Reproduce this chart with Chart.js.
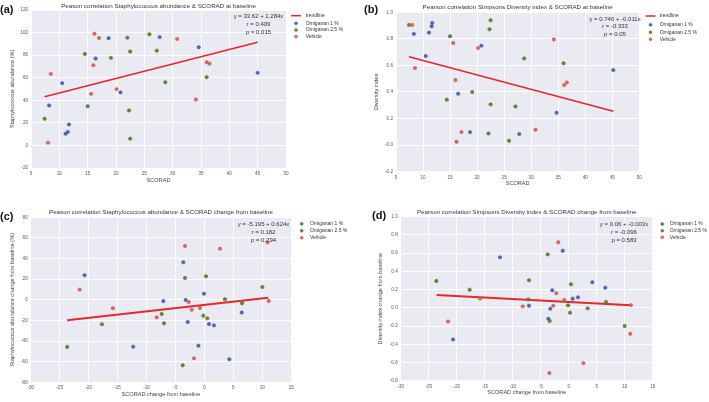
<!DOCTYPE html>
<html><head><meta charset="utf-8">
<script src="https://cdn.jsdelivr.net/npm/chart.js@4.4.0/dist/chart.umd.min.js"></script>
<style>
html,body{margin:0;padding:0;background:#fff;width:709px;height:402px;overflow:hidden;}
canvas{position:absolute;}
</style></head><body>
<canvas id="ca" width="354" height="200" style="left:0;top:0"></canvas>
<canvas id="cb" width="355" height="200" style="left:354px;top:0"></canvas>
<canvas id="cc" width="354" height="202" style="left:0;top:200px"></canvas>
<canvas id="cd" width="355" height="202" style="left:354px;top:200px"></canvas>
<script>
// ---------- data ----------
const seriesNames = ['Omiganan 1 %', 'Omiganan 2.5 %', 'Vehicle'];
const trendName = 'trendline';

// (a) Staphylococcus abundance vs SCORAD at baseline
const aOmi1 = [[10.5,55.2],[8.2,35.4],[11.7,18.6],[11.5,12.0],[11.1,10.4],[16.4,77.0],[18.7,95.0],[20.8,47.0],[27.7,96.0],[34.6,87.0],[45.0,64.3]];
const aOmi25 = [[7.4,23.6],[14.5,81.0],[15.0,34.8],[19.1,77.6],[22.0,95.5],[22.5,83.2],[22.3,31.0],[22.5,6.0],[25.9,98.5],[27.2,84.0],[28.7,56.0],[36.0,60.5]];
const aVeh = [[8.0,2.4],[8.5,63.4],[16.2,99.0],[17.0,95.2],[16.0,71.0],[15.6,45.7],[20.1,49.9],[30.8,94.4],[34.1,40.7],[36.0,73.7],[36.5,72.5]];
const aTrend = [[7.4,43.1],[45.0,91.4]];
const aStats = ['y = 33.62 + 1.284x', 'r = 0.409', 'p = 0.015'];

// (b) Simpsons diversity index vs SCORAD at baseline
const bOmi1 = [[8.3,0.837],[11.1,0.847],[11.7,0.92],[11.6,0.895],[10.5,0.671],[16.5,0.387],[18.7,0.098],[20.8,0.749],[27.8,0.083],[34.7,0.244],[45.2,0.565]];
const bOmi25 = [[7.4,0.905],[15.0,0.82],[14.4,0.342],[19.1,0.40],[22.1,0.088],[22.3,0.872],[22.5,0.94],[22.5,0.307],[25.9,0.033],[27.1,0.291],[28.7,0.653],[36.0,0.616]];
const bVeh = [[8.0,0.905],[8.5,0.58],[15.6,0.769],[16.0,0.49],[16.2,0.025],[17.1,0.098],[20.2,0.731],[30.8,0.116],[34.2,0.796],[36.1,0.452],[36.6,0.472]];
const bTrend = [[7.4,0.665],[45.2,0.255]];
const bStats = ['y = 0.746 + -0.011x', 'r = -0.333', 'p = 0.05'];

// (c) Staphylococcus abundance change vs SCORAD change
const cOmi1 = [[-20.7,23.8],[-12.3,-45.5],[-7.1,-1.2],[-3.65,36.4],[-3.24,-0.2],[-2.89,-21.5],[-1.04,-44.5],[-0.08,5.9],[0.79,-23.5],[1.65,-24.8],[4.3,-57.7],[6.44,-12.3]];
const cOmi25 = [[-23.7,-45.7],[-17.7,-23.7],[-7.38,-13.8],[-6.98,-22.8],[-3.35,21.1],[-3.75,-63.5],[-0.2,-15.4],[0.27,22.8],[0.49,-18.0],[3.55,0.5],[6.5,-3.4],[10.0,12.4]];
const cVeh = [[-21.55,9.9],[-15.8,-8.2],[-8.24,-17.0],[-3.35,52.2],[-2.72,-2.2],[-2.2,-9.6],[-1.8,-56.8],[-0.77,-8.0],[2.69,49.6],[10.9,55.7],[11.1,-1.2]];
const cTrend = [[-23.7,-19.9],[11.0,1.9]];
const cStats = ['y = -5.195 + 0.624x', 'r = 0.182', 'p = 0.294'];

// (d) Simpsons diversity index change vs SCORAD change
const dOmi1 = [[-20.65,-0.347],[-12.27,0.554],[-7.09,0.023],[-3.64,-0.12],[-3.29,-0.01],[-2.93,0.192],[-1.07,0.627],[0.71,0.1],[1.66,0.115],[4.21,0.28],[6.54,0.221]];
const dOmi25 = [[-23.63,0.294],[-17.68,0.199],[-7.21,0.093],[-7.09,0.302],[-3.75,0.587],[-3.39,-0.145],[-0.12,0.027],[0.23,-0.054],[0.41,0.258],[3.39,-0.006],[6.66,0.064],[10.0,-0.2]];
const dVeh = [[-21.55,-0.15],[-15.83,0.102],[-8.21,0.016],[-1.86,0.719],[-3.45,-0.716],[-2.75,0.023],[-2.21,0.159],[-0.79,0.086],[2.62,-0.607],[11.0,-0.285],[11.1,0.029]];
const dTrend = [[-23.6,0.14],[11.1,0.027]];
const dStats = ['y = 0.06 + -0.003x', 'r = -0.096', 'p = 0.583'];

// ---------- styling ----------
const FONT = "'Liberation Sans', Arial, sans-serif";
const COLORS = ['#4a6cc0', '#6b8a2e', '#e2695a'];
const EDGES = ['#33509a', '#46601a', '#bf4a3c'];
const TREND = '#e8262b';
const BG = '#EAEAF2';

const toXY = arr => arr.map(p => ({x: p[0], y: p[1]}));

function panelPlugin(p) {
  return {
    id: 'panel' + p.label,
    beforeDraw(chart) {
      const {ctx, chartArea: a} = chart;
      ctx.save();
      ctx.fillStyle = BG;
      ctx.fillRect(a.left, a.top, a.right - a.left, a.bottom - a.top);
      ctx.restore();
    },
    afterDraw(chart) {
      const ctx = chart.ctx, a = chart.chartArea;
      ctx.save();
      ctx.textBaseline = 'middle';
      // title
      ctx.fillStyle = '#333';
      ctx.font = `6.2px ${FONT}`;
      ctx.textAlign = 'center';
      ctx.fillText(p.title, (a.left + a.right) / 2, p.titleY);
      // panel label
      ctx.font = `bold 11px ${FONT}`;
      ctx.fillStyle = '#111';
      ctx.textAlign = 'left';
      ctx.fillText(p.label, p.labelX, p.labelY);
      // stats annotation
      ctx.font = `6px ${FONT}`;
      ctx.fillStyle = '#333';
      ctx.textAlign = 'center';
      p.stats.forEach((t, i) => ctx.fillText(t, p.statsX, p.statsY[i]));
      // legend
      ctx.font = `5px ${FONT}`;
      ctx.textAlign = 'left';
      p.legend.forEach((di, i) => {
        const ds = chart.data.datasets[di];
        const y = p.legRows[i];
        if (ds.showLine) {
          ctx.strokeStyle = ds.borderColor;
          ctx.lineWidth = 1.5;
          ctx.beginPath();
          ctx.moveTo(p.legX - 5, y); ctx.lineTo(p.legX + 5, y);
          ctx.stroke();
        } else {
          ctx.fillStyle = ds.backgroundColor;
          ctx.strokeStyle = ds.borderColor;
          ctx.lineWidth = 0.4;
          ctx.beginPath();
          ctx.arc(p.legX, y, 1.5, 0, Math.PI * 2);
          ctx.fill(); ctx.stroke();
        }
        ctx.fillStyle = '#333';
        ctx.fillText(ds.label, p.legTextX, y);
      });
      ctx.restore();
    }
  };
}

function makePanel(id, p) {
  const W = p.W, H = p.H;
  const tickFont = {family: FONT, size: 4.6};
  const titleFont = {family: FONT, size: 5.6, lineHeight: 1.2};
  const half = 5.6 * 1.2 / 2;
  const datasets = [
    {label: trendName, data: toXY(p.trend), type: 'scatter', showLine: true, borderColor: TREND,
     backgroundColor: TREND, borderWidth: p.trendW, pointRadius: 0, order: 10},
  ];
  p.series.forEach((s, i) => datasets.push({
    label: seriesNames[i], data: toXY(s), backgroundColor: COLORS[i], borderColor: EDGES[i],
    borderWidth: 0.5, pointRadius: 1.7, pointHoverRadius: 1.7, order: 3 - i
  }));
  new Chart(document.getElementById(id), {
    type: 'scatter',
    data: {datasets},
    options: {
      responsive: false, animation: false, devicePixelRatio: 1,
      layout: {padding: {left: 0, top: p.T, right: W - p.R, bottom: 0}},
      plugins: {legend: {display: false}, tooltip: {enabled: false}, title: {display: false}},
      scales: {
        x: {
          type: 'linear', min: p.xMin, max: p.xMax,
          ticks: {stepSize: p.xStep, font: tickFont, color: '#555', padding: 3},
          grid: {color: '#ffffff', lineWidth: 0.9, drawTicks: false},
          border: {display: false},
          title: {display: true, text: p.xTitle, font: titleFont, color: '#444',
                  padding: {top: 0, bottom: (H - p.xTitleY) - half}},
          afterFit: s => { s.height = H - p.B; }
        },
        y: {
          type: 'linear', min: p.yMin, max: p.yMax,
          ticks: {stepSize: p.yStep, font: tickFont, color: '#555', padding: 3,
                  callback: v => p.yDec ? v.toFixed(p.yDec) : String(Math.round(v))},
          grid: {color: '#ffffff', lineWidth: 0.9, drawTicks: false},
          border: {display: false},
          title: {display: true, text: p.yTitle, font: titleFont, color: '#444',
                  padding: {top: p.yTitleX - half, bottom: 0}},
          afterFit: s => { s.width = p.L; }
        }
      }
    },
    plugins: [panelPlugin(p)]
  });
}

makePanel('ca', {
  W: 354, H: 200, L: 31, R: 286, T: 10, B: 168,
  xMin: 5, xMax: 50, xStep: 5, yMin: -20, yMax: 120, yStep: 20, yDec: 0,
  xTitle: 'SCORAD', yTitle: 'Staphylococcus abundance (%)', xTitleY: 180.8, yTitleX: 12.3,
  title: 'Peason correlation Staphylococcus abundance & SCORAD at baseline', titleY: 5.8,
  label: '(a)', labelX: 0, labelY: 9.5,
  stats: aStats, statsX: 258.5, statsY: [16.7, 24.4, 32.2],
  series: [aOmi1, aOmi25, aVeh], trend: aTrend, trendW: 1.6,
  legend: [0, 1, 2, 3], legX: 296, legTextX: 305.7, legRows: [15.7, 23.3, 29.9, 36.6]
});
makePanel('cb', {
  W: 355, H: 200, L: 42, R: 285.3, T: 12.3, B: 171.7,
  xMin: 5, xMax: 50, xStep: 5, yMin: -0.2, yMax: 1.0, yStep: 0.2, yDec: 1,
  xTitle: 'SCORAD', yTitle: 'Diversity index', xTitleY: 183.3, yTitleX: 22.7,
  title: 'Pearson correlation Simpsons Diversity index & SCORAD at baseline', titleY: 6.8,
  label: '(b)', labelX: 10, labelY: 9.5,
  stats: bStats, statsX: 261, statsY: [19, 26.7, 34.3],
  series: [bOmi1, bOmi25, bVeh], trend: bTrend, trendW: 1.6,
  legend: [0, 1, 2, 3], legX: 296.5, legTextX: 305.7, legRows: [16, 24.8, 32.2, 39.2]
});
makePanel('cc', {
  W: 354, H: 202, L: 30.7, R: 291.3, T: 17.3, B: 182.3,
  xMin: -30, xMax: 15, xStep: 5, yMin: -80, yMax: 80, yStep: 20, yDec: 0,
  xTitle: 'SCORAD change from baseline', yTitle: 'Staphylococcus abundance change from baseline (%)',
  xTitleY: 194.3, yTitleX: 12.3,
  title: 'Peason correlation Staphylococcus abundance & SCORAD change from baseline', titleY: 12.7,
  label: '(c)', labelX: 0, labelY: 16.7,
  stats: cStats, statsX: 263.5, statsY: [24, 32, 40],
  series: [cOmi1, cOmi25, cVeh], trend: cTrend, trendW: 2,
  legend: [1, 2, 3], legX: 301.7, legTextX: 310, legRows: [23.7, 30.7, 37.7]
});
makePanel('cd', {
  W: 355, H: 202, L: 46.7, R: 298.7, T: 16.7, B: 180.7,
  xMin: -30, xMax: 15, xStep: 5, yMin: -0.8, yMax: 1.0, yStep: 0.2, yDec: 1,
  xTitle: 'SCORAD change from baseline', yTitle: 'Diversity index change from baseline',
  xTitleY: 192.7, yTitleX: 26.7,
  title: 'Pearson correlation Simpsons Diversity index & SCORAD change from baseline', titleY: 12.3,
  label: '(d)', labelX: 18, labelY: 16,
  stats: dStats, statsX: 270, statsY: [24, 32, 40],
  series: [dOmi1, dOmi25, dVeh], trend: dTrend, trendW: 2,
  legend: [1, 2, 3], legX: 308.3, legTextX: 315.7, legRows: [24, 30.7, 37.3]
});
</script>
</body></html>
